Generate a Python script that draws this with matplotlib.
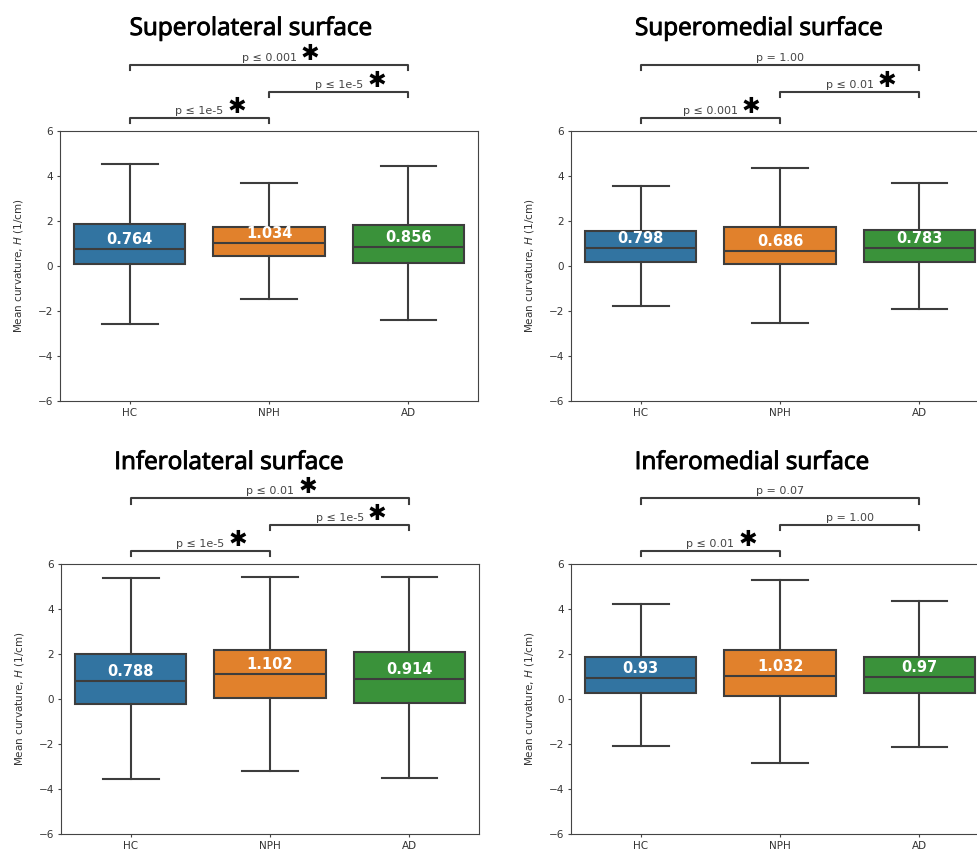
import matplotlib
matplotlib.use("Agg")
import matplotlib.pyplot as plt
import matplotlib.patheffects as pe

# ---------------- data ----------------
groups = ["HC", "NPH", "AD"]
panel_titles = ["Superolateral surface", "Superomedial surface",
                "Inferolateral surface", "Inferomedial surface"]

# rows: panels (superolateral, superomedial, inferolateral, inferomedial); cols: HC, NPH, AD
whisker_high = [[4.53, 3.70, 4.43],
                [3.55, 4.35, 3.70],
                [5.39, 5.44, 5.44],
                [4.23, 5.29, 4.38]]
q3_values = [[1.86, 1.75, 1.83],
             [1.56, 1.75, 1.60],
             [2.00, 2.17, 2.08],
             [1.86, 2.17, 1.89]]
medians = [[0.764, 1.034, 0.856],
           [0.798, 0.686, 0.783],
           [0.788, 1.102, 0.914],
           [0.93, 1.032, 0.97]]
q1_values = [[0.07, 0.43, 0.12],
             [0.18, 0.07, 0.18],
             [-0.22, 0.07, -0.18],
             [0.27, 0.15, 0.27]]
whisker_low = [[-2.57, -1.49, -2.42],
               [-1.80, -2.52, -1.90],
               [-3.56, -3.19, -3.52],
               [-2.08, -2.85, -2.15]]

# comparisons: HC-NPH, NPH-AD, HC-AD
comparisons = [(0, 1), (1, 2), (0, 2)]
p_labels = [["p ≤ 1e-5", "p ≤ 1e-5", "p ≤ 0.001"],
            ["p ≤ 0.001", "p ≤ 0.01", "p = 1.00"],
            ["p ≤ 1e-5", "p ≤ 1e-5", "p ≤ 0.01"],
            ["p ≤ 0.01", "p = 1.00", "p = 0.07"]]
significant = [[True, True, True],
               [True, True, False],
               [True, True, True],
               [True, False, False]]

# ---------------- style ----------------
box_colors = ["#3274a1", "#e1812c", "#3a923a"]
line_c = "#3d3d3d"
axes_pos = [(0.0614, 0.529), (0.5844, 0.529), (0.0624, 0.020), (0.5844, 0.020)]
AW, AH = 0.428, 0.317
title_pos = [(251 / 977, 1 - 35 / 851), (759 / 977, 1 - 35 / 851),
             (229 / 977, 1 - 469 / 851), (752 / 977, 1 - 469 / 851)]
bracket_levels = [6.6, 7.75, 8.95]
drop = 0.25

fig = plt.figure(figsize=(9.77, 8.51), dpi=100)

for i in range(4):
    ax = fig.add_axes([axes_pos[i][0], axes_pos[i][1], AW, AH])
    stats = []
    for j in range(3):
        stats.append(dict(med=medians[i][j], q1=q1_values[i][j], q3=q3_values[i][j],
                          whislo=whisker_low[i][j], whishi=whisker_high[i][j],
                          fliers=[]))
    bp = ax.bxp(stats, positions=[0, 1, 2], widths=0.8, capwidths=0.4,
                patch_artist=True, showfliers=False,
                boxprops=dict(edgecolor=line_c, linewidth=1.5),
                whiskerprops=dict(color=line_c, linewidth=1.5),
                capprops=dict(color=line_c, linewidth=1.5),
                medianprops=dict(color=line_c, linewidth=1.5))
    for patch, c in zip(bp["boxes"], box_colors):
        patch.set_facecolor(c)

    ax.set_xlim(-0.5, 2.5)
    ax.set_ylim(-6, 6)
    ax.set_yticks([-6, -4, -2, 0, 2, 4, 6])
    ax.set_xticks([0, 1, 2], groups)
    ax.tick_params(labelsize=7.5, colors="#444444", labelcolor="#333333",
                   length=2.5, pad=2.5)
    for s in ax.spines.values():
        s.set_color("#444444")
    ax.set_ylabel("Mean curvature, $H$ (1/cm)", fontsize=7.5, color="#333333", labelpad=9)

    for j in range(3):
        ax.text(j, medians[i][j] + 0.42, f"{medians[i][j]}", ha="center", va="center",
                color="white", fontsize=10.5, fontweight="bold")

    for k, (a, b) in enumerate(comparisons):
        y = bracket_levels[k]
        ax.plot([a, a, b, b], [y - drop, y, y, y - drop], color=line_c,
                linewidth=1.5, clip_on=False)
        t = ax.text((a + b) / 2, y + 0.08, p_labels[i][k], ha="center", va="bottom",
                    fontsize=8, color="#444444", clip_on=False)
        if significant[i][k]:
            ax.annotate("✱", xy=(1, 0.5), xycoords=t, xytext=(3, 3),
                        textcoords="offset points", ha="left", va="center",
                        fontsize=16, fontweight="bold", color="black")

    fig.text(title_pos[i][0], title_pos[i][1], panel_titles[i], ha="center",
             va="baseline", fontsize=17.5, fontfamily="Open Sans", color="black",
             path_effects=[pe.withStroke(linewidth=0.7, foreground="black")])

fig.savefig("out.png", dpi=100)
